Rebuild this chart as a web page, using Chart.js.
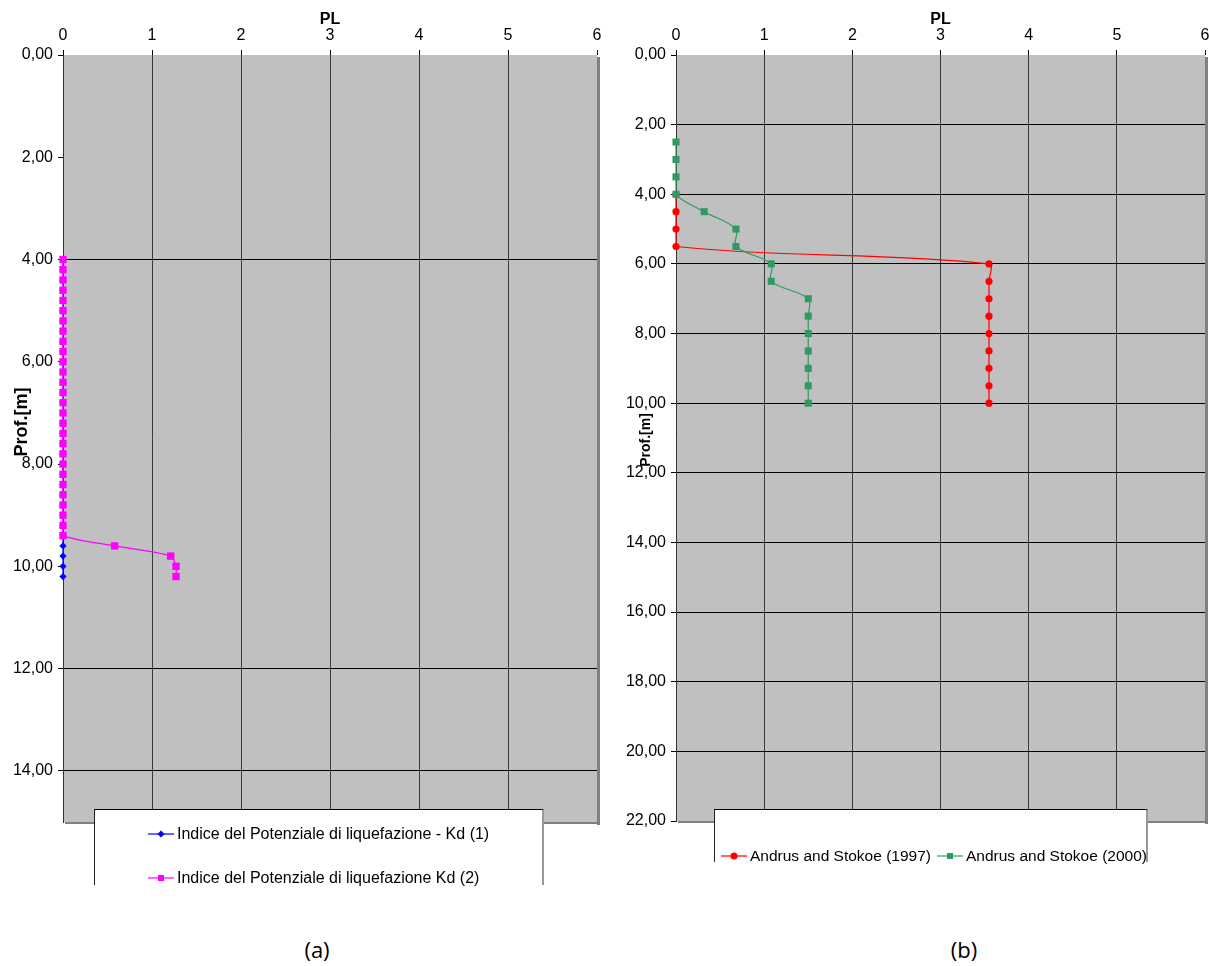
<!DOCTYPE html>
<html>
<head>
<meta charset="utf-8">
<script src="https://cdn.jsdelivr.net/npm/chart.js@4.4.1/dist/chart.umd.min.js"></script>
<style>
  html, body { margin: 0; padding: 0; background: #fff; }
  body { width: 1210px; height: 966px; position: relative; overflow: hidden;
         font-family: 'Liberation Sans', Arial, sans-serif; }
  canvas { position: absolute; top: 0; }
  #chartA { left: 0; }
  #chartB { left: 610px; }
  .legend { position: absolute; background: #fff; box-sizing: border-box; z-index: 2;
            border-top: 1px solid #000; border-left: 1px solid #222; border-right: 2px solid #9a9a9a;
            color: #000; }
  .item { position: absolute; height: 18px; display: flex; align-items: center; white-space: nowrap; }
  .item svg { display: block; margin-right: 3px; }
  .cap { position: absolute; top: 934px; transform: translateX(-50%);
         font-family: 'Open Sans', 'Liberation Sans', sans-serif; font-size: 22px; color: #000; }
</style>
</head>
<body>
<canvas id="chartA" width="610" height="830"></canvas>
<canvas id="chartB" width="600" height="830"></canvas>

<div class="legend" style="left:94px; top:809px; width:450px; height:76px; font-size:16px;">
  <div class="item" style="left:53px; top:15px;">
    <svg width="26" height="10"><line x1="0" y1="5" x2="26" y2="5" stroke="#0000ff" stroke-width="1.2"/><polygon points="13,1.5 16.5,5 13,8.5 9.5,5" fill="#0000ff"/></svg>
    <span>Indice del Potenziale di liquefazione - Kd (1)</span>
  </div>
  <div class="item" style="left:53px; top:59px;">
    <svg width="26" height="10"><line x1="0" y1="5" x2="26" y2="5" stroke="#ff00ff" stroke-width="1.2"/><rect x="10" y="2" width="6" height="6" fill="#ff00ff"/></svg>
    <span>Indice del Potenziale di liquefazione Kd (2)</span>
  </div>
</div>

<div class="legend" style="left:714px; top:809px; width:434px; height:53px; font-size:15.5px;">
  <div class="item" style="left:6px; top:37px;">
    <svg width="26" height="10"><line x1="0" y1="5" x2="26" y2="5" stroke="#ff0000" stroke-width="1.2"/><circle cx="13" cy="5" r="3.5" fill="#ff0000"/></svg>
    <span>Andrus and Stokoe (1997)</span>
  </div>
  <div class="item" style="left:222px; top:37px;">
    <svg width="26" height="10"><line x1="0" y1="5" x2="26" y2="5" stroke="#2e9a62" stroke-width="1.2"/><rect x="10" y="2" width="6" height="6" fill="#2e9a62"/></svg>
    <span>Andrus and Stokoe (2000)</span>
  </div>
</div>

<div class="cap" style="left:317px;">(a)</div>
<div class="cap" style="left:964px;">(b)</div>

<script>
// ---- Chart (a): liquefaction potential index vs depth ----
const depthA = [4.0, 4.2, 4.4, 4.6, 4.8, 5.0, 5.2, 5.4, 5.6, 5.8,
                6.0, 6.2, 6.4, 6.6, 6.8, 7.0, 7.2, 7.4, 7.6, 7.8,
                8.0, 8.2, 8.4, 8.6, 8.8, 9.0, 9.2, 9.4, 9.6, 9.8,
                10.0, 10.2];
const plKd1 = [0, 0, 0, 0, 0, 0, 0, 0, 0, 0,
               0, 0, 0, 0, 0, 0, 0, 0, 0, 0,
               0, 0, 0, 0, 0, 0, 0, 0, 0, 0,
               0, 0];
const plKd2 = [0, 0, 0, 0, 0, 0, 0, 0, 0, 0,
               0, 0, 0, 0, 0, 0, 0, 0, 0, 0,
               0, 0, 0, 0, 0, 0, 0, 0, 0.58, 1.21,
               1.27, 1.27];
const depthTicksA = [0, 2, 4, 6, 8, 10, 12, 14];

// ---- Chart (b): Andrus and Stokoe ----
const depth1997 = [4.0, 4.5, 5.0, 5.5, 6.0, 6.5, 7.0, 7.5, 8.0, 8.5, 9.0, 9.5, 10.0];
const pl1997    = [0, 0, 0, 0, 3.55, 3.55, 3.55, 3.55, 3.55, 3.55, 3.55, 3.55, 3.55];
const depth2000 = [2.5, 3.0, 3.5, 4.0, 4.5, 5.0, 5.5, 6.0, 6.5, 7.0, 7.5, 8.0, 8.5, 9.0, 9.5, 10.0];
const pl2000    = [0, 0, 0, 0, 0.32, 0.68, 0.68, 1.08, 1.08, 1.50, 1.50, 1.50, 1.50, 1.50, 1.50, 1.50];
const depthTicksB = [0, 2, 4, 6, 8, 10, 12, 14, 16, 18, 20, 22];

const plTicks = [0, 1, 2, 3, 4, 5, 6];

const pairs = (xs, ys) => ys.map((d, i) => ({ x: xs[i], y: d }));
const commaFmt = v => Number(v).toFixed(2).replace('.', ',');
const clear = 'rgba(0,0,0,0)';
const FONT = "'Liberation Sans', Arial, sans-serif";

Chart.defaults.font.family = FONT;
Chart.defaults.color = '#000';

// grey plot background with a dark drop shadow on the right and bottom edges
const plotFrame = {
  id: 'plotFrame',
  beforeDraw(chart) {
    const { ctx, chartArea: { left, top, right, bottom } } = chart;
    ctx.save();
    ctx.fillStyle = '#c0c0c0';
    ctx.fillRect(left, top, right - left, bottom - top);
    ctx.fillStyle = '#808080';
    ctx.fillRect(right, top + 2, 3, bottom - top + 1);
    ctx.fillRect(left + 2, bottom, right - left + 1, 2);
    ctx.restore();
  }
};

// rotated depth-axis caption placed freely beside the tick labels
const sideTitle = {
  id: 'sideTitle',
  afterDraw(chart, args, opts) {
    const ctx = chart.ctx;
    ctx.save();
    ctx.translate(opts.x, opts.y);
    ctx.rotate(-Math.PI / 2);
    ctx.font = `bold ${opts.size}px ${FONT}`;
    ctx.fillStyle = '#000';
    ctx.textAlign = 'center';
    ctx.textBaseline = 'middle';
    ctx.fillText(opts.text, 0, 0);
    ctx.restore();
  }
};

function makeOptions(cfg) {
  return {
    responsive: false,
    animation: false,
    devicePixelRatio: 1,
    layout: { padding: cfg.padding },
    plugins: {
      legend: { display: false },
      tooltip: { enabled: false },
      sideTitle: { text: 'Prof.[m]', x: cfg.titleX, y: cfg.titleY, size: cfg.titleSize }
    },
    scales: {
      x: {
        type: 'linear', position: 'top', min: 0, max: 6,
        afterBuildTicks: s => { s.ticks = plTicks.map(v => ({ value: v })); },
        afterFit: s => { s.height = 55; s.paddingLeft = 0; s.paddingRight = 0; },
        ticks: { padding: 5, font: { size: 16 }, color: '#000', callback: v => String(v) },
        grid: {
          color: c => (c.tick && (c.tick.value === 0 || c.tick.value === 6)) ? clear : '#3a3a3a',
          tickColor: '#000', tickLength: 5, lineWidth: 1
        },
        border: { display: false },
        title: { display: true, text: 'PL', color: '#000',
                 font: { size: 16, weight: 'bold' }, padding: { top: 10, bottom: 0 } }
      },
      y: {
        type: 'linear', reverse: true, min: 0, max: cfg.yMax,
        afterBuildTicks: s => { s.ticks = cfg.yTicks.map(v => ({ value: v })); },
        afterFit: s => { s.width = cfg.yWidth; s.paddingTop = 0; s.paddingBottom = 0; },
        ticks: { padding: 5, font: { size: 16 }, color: '#000', callback: commaFmt },
        grid: {
          color: c => (c.tick && cfg.yGrid.includes(c.tick.value)) ? '#000' : clear,
          tickColor: '#000', tickLength: 5, lineWidth: 1
        },
        border: { color: '#333', width: 1 }
      }
    }
  };
}

new Chart(document.getElementById('chartA'), {
  type: 'scatter',
  data: {
    datasets: [
      {
        label: 'Indice del Potenziale di liquefazione - Kd (1)',
        data: pairs(plKd1, depthA), showLine: true, tension: 0.3, clip: false, order: 2,
        borderColor: '#0000ff', backgroundColor: '#0000ff', borderWidth: 1.2,
        pointStyle: 'rectRot', pointRadius: 3.6, pointBorderWidth: 0
      },
      {
        label: 'Indice del Potenziale di liquefazione Kd (2)',
        data: pairs(plKd2, depthA), showLine: true, tension: 0.3, clip: false, order: 1,
        borderColor: '#ff00ff', backgroundColor: '#ff00ff', borderWidth: 1.2,
        pointStyle: 'rect', pointRadius: 5.2, pointBorderWidth: 0
      }
    ]
  },
  options: makeOptions({
    padding: { left: 0, top: 0, right: 13, bottom: 8 },
    yMax: 15, yTicks: depthTicksA, yGrid: [4, 12, 14], yWidth: 63,
    titleX: 22, titleY: 422, titleSize: 18
  }),
  plugins: [plotFrame, sideTitle]
});

new Chart(document.getElementById('chartB'), {
  type: 'scatter',
  data: {
    datasets: [
      {
        label: 'Andrus and Stokoe (1997)',
        data: pairs(pl1997, depth1997), showLine: true, tension: 0.33, clip: false, order: 2,
        borderColor: '#ff0000', backgroundColor: '#ff0000', borderWidth: 1.2,
        pointStyle: 'circle', pointRadius: 3.6, pointBorderWidth: 0
      },
      {
        label: 'Andrus and Stokoe (2000)',
        data: pairs(pl2000, depth2000), showLine: true, tension: 0.33, clip: false, order: 1,
        borderColor: '#2e9a62', backgroundColor: '#2e9a62', borderWidth: 1.2,
        pointStyle: 'rect', pointRadius: 5, pointBorderWidth: 0
      }
    ]
  },
  options: makeOptions({
    padding: { left: 0, top: 0, right: 4, bottom: 9 },
    yMax: 22, yTicks: depthTicksB, yGrid: [2, 4, 6, 8, 10, 12, 14, 16, 18, 20], yWidth: 66,
    titleX: 36, titleY: 440, titleSize: 14
  }),
  plugins: [plotFrame, sideTitle]
});
</script>
</body>
</html>
